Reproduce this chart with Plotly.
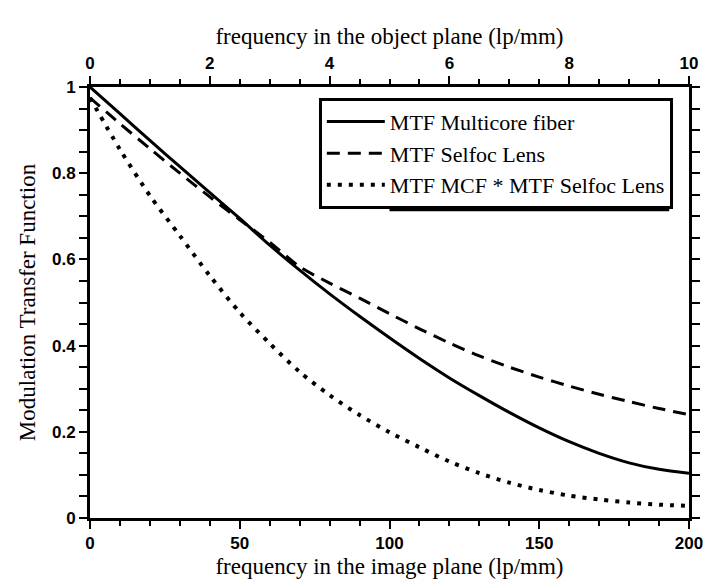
import plotly.graph_objects as go

# ---- data ----
freq_image = [0, 10, 20, 30, 40, 50, 60, 70, 80, 90, 100,
              110, 120, 130, 140, 150, 160, 170, 180, 190, 200]
mtf_multicore = [1.0, 0.938, 0.876, 0.815, 0.755, 0.695, 0.633, 0.575, 0.52, 0.468, 0.418,
                 0.37, 0.325, 0.284, 0.245, 0.209, 0.177, 0.15, 0.128, 0.113, 0.104]
mtf_selfoc = [0.975, 0.915, 0.857, 0.80, 0.745, 0.692, 0.64, 0.583, 0.545, 0.51, 0.474,
              0.439, 0.406, 0.376, 0.35, 0.327, 0.306, 0.287, 0.27, 0.254, 0.24]
mtf_product = [0.975, 0.855, 0.748, 0.655, 0.562, 0.477, 0.405, 0.339, 0.285, 0.239, 0.199,
               0.164, 0.131, 0.104, 0.082, 0.065, 0.052, 0.043, 0.036, 0.031, 0.028]

series_names = ["MTF Multicore fiber", "MTF Selfoc Lens", "MTF MCF * MTF Selfoc Lens"]

x_bottom_ticks = [0, 50, 100, 150, 200]
x_top_ticks = [0, 2, 4, 6, 8, 10]
y_ticks = [0, 0.2, 0.4, 0.6, 0.8, 1]
y_tick_text = ["0", "0.2", "0.4", "0.6", "0.8", "1"]
image_to_object = 20  # image plane freq / object plane freq

serif = "Liberation Serif, Times New Roman, serif"
sans = "Liberation Sans, Arial, sans-serif"

fig = go.Figure()
fig.add_trace(go.Scatter(x=freq_image, y=mtf_multicore, mode="lines", name=series_names[0],
                         line=dict(color="black", width=3, shape="spline", smoothing=0.8)))
fig.add_trace(go.Scatter(x=freq_image, y=mtf_selfoc, mode="lines", name=series_names[1],
                         line=dict(color="black", width=3, dash="13px,8px", shape="spline",
                                   smoothing=0.8)))
fig.add_trace(go.Scatter(x=freq_image, y=mtf_product, mode="lines", name=series_names[2],
                         line=dict(color="black", width=4, dash="4px,7px", shape="spline",
                                   smoothing=0.8)))
# invisible trace to carry the top (object-plane) axis
fig.add_trace(go.Scatter(x=[v / image_to_object for v in freq_image], y=mtf_multicore,
                         xaxis="x2", mode="lines", line=dict(width=0, color="rgba(0,0,0,0)"),
                         showlegend=False, hoverinfo="skip"))

axis_common = dict(showgrid=False, zeroline=False, showline=True, linecolor="black",
                   linewidth=3, ticks="outside", tickcolor="black", tickwidth=2, ticklen=8)
minor_common = dict(ticks="outside", ticklen=5, tickcolor="black", tickwidth=2)
tick_font = dict(family=sans, size=17, color="black", weight="bold")
title_font = dict(family=serif, size=23, color="black")

fig.update_layout(
    width=707, height=580,
    paper_bgcolor="white", plot_bgcolor="white",
    margin=dict(l=82, r=20, t=79, b=64),
    showlegend=True,
    legend=dict(x=0.382, y=0.975, xanchor="left", yanchor="top",
                bgcolor="white", bordercolor="black", borderwidth=3,
                font=dict(family=serif, size=22, color="black"),
                tracegroupgap=0, itemwidth=58),
    # drop shadow behind the legend box (right and bottom edges)
    shapes=[dict(type="rect", xref="paper", yref="paper", layer="above",
                 x0=0.5, x1=0.967, y0=0.712, y1=0.9,
                 fillcolor="black", line=dict(width=0))],
    xaxis=dict(**axis_common, range=[0, 200], tickvals=x_bottom_ticks,
               minor=dict(dtick=10, **minor_common), tickfont=tick_font,
               title=dict(text="frequency in the image plane (lp/mm)", font=title_font,
                          standoff=6)),
    xaxis2=dict(**axis_common, range=[0, 10], overlaying="x", side="top", anchor="y",
                tickvals=x_top_ticks, minor=dict(dtick=0.5, **minor_common),
                tickfont=tick_font,
                title=dict(text="frequency in the object plane (lp/mm)", font=title_font,
                           standoff=4)),
    yaxis=dict(**axis_common, range=[0, 1], tickvals=y_ticks, ticktext=y_tick_text,
               mirror="allticks", minor=dict(dtick=0.05, **minor_common),
               tickfont=tick_font,
               title=dict(text="Modulation Transfer Function", font=title_font, standoff=10)),
)

fig.write_html("out.html")
